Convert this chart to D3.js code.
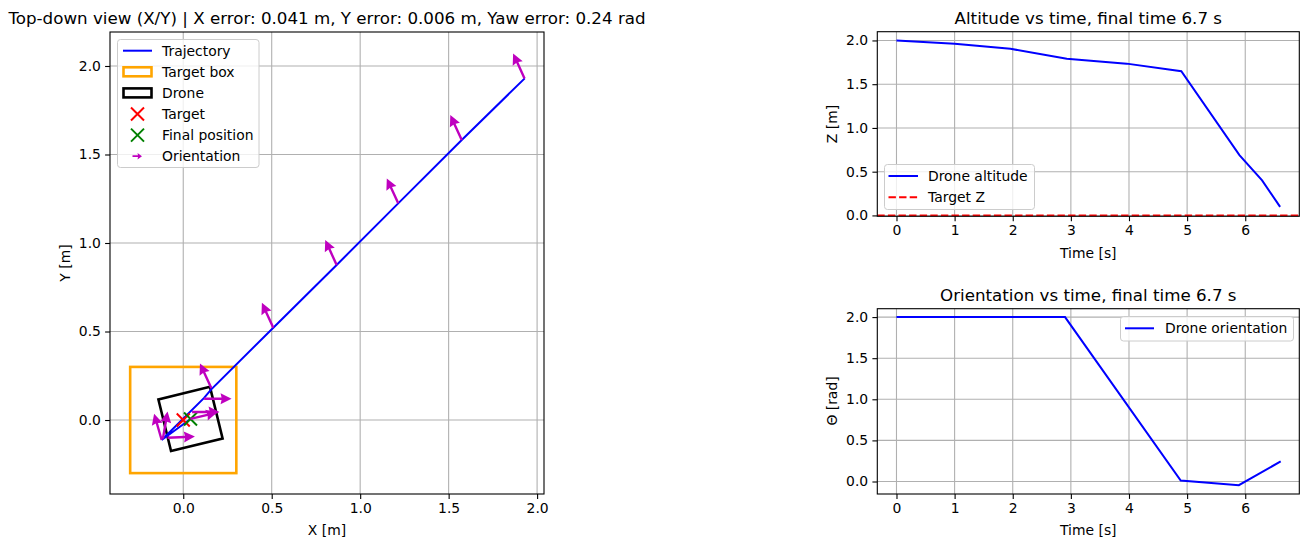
<!DOCTYPE html>
<html>
<head>
<meta charset="utf-8">
<script src="https://cdn.jsdelivr.net/npm/d3@7"></script>
<style>
  body { margin: 0; background: #fff; }
  svg { display: block; }
  text { font-family: "DejaVu Sans", sans-serif; fill: #000; }
</style>
</head>
<body>
<div id="chart"></div>
<script>
// ---- data ----
// top-down trajectory (m)
var trajX = [1.93, 1.574, 1.215, 0.867, 0.509, 0.157, 0.118, -0.122, 0.041];
var trajY = [1.93, 1.582, 1.224, 0.876, 0.521, 0.172, 0.125, -0.113, 0.006];
// orientation arrows (tail position, yaw in rad)
var arrowX   = [1.929, 1.574, 1.215, 0.867, 0.509, 0.159, 0.118, 0.05, 0.041, -0.122, -0.115, -0.089];
var arrowY   = [1.930, 1.582, 1.224, 0.876, 0.521, 0.179, 0.12, 0.045, 0.006, -0.113, -0.105, -0.10];
var arrowYaw = [2.0, 2.0, 2.0, 2.0, 2.0, 2.0, 0.0, 0.0, 0.24, 1.85, 1.4, 0.04];
var arrowLen = 0.155;
// target box / target / final pose
var boxHalf = 0.3;
var target = [0, 0];
var finalPos = [0.041, 0.006];
var finalYaw = 0.24;
var droneHalf = 0.15;
// altitude vs time
var altTime = [0, 1.0, 1.96, 2.93, 3.96, 4.9, 5.9, 6.29, 6.6];
var altZ    = [2.0, 1.962, 1.905, 1.79, 1.735, 1.648, 0.69, 0.40, 0.098];
var targetZ = 0.0;
// orientation vs time
var yawTime  = [0, 2.9, 4.89, 5.89, 6.61];
var yawTheta = [2.0, 2.0, 0.012, -0.045, 0.244];

var xyTicks = [0, 0.5, 1.0, 1.5, 2.0];
var timeTicks = [0, 1, 2, 3, 4, 5, 6];
var zTicks = [0, 0.5, 1.0, 1.5, 2.0];
var thetaTicks = [0, 0.5, 1.0, 1.5, 2.0];

var W = 1309, H = 547;
var svg = d3.select("#chart").append("svg").attr("width", W).attr("height", H);

var TICK = 4.9, PAD = 4.2, FS = 13.9, TFS = 16.7;

function panel(box, xDom, yDom, xt, yt, xfmt, yfmt) {
  var x = d3.scaleLinear().domain(xDom).range([box.x0, box.x1]);
  var y = d3.scaleLinear().domain(yDom).range([box.y1, box.y0]);
  var g = svg.append("g");
  // grid
  g.append("g").selectAll("line").data(xt).enter().append("line")
    .attr("x1", d => x(d)).attr("x2", d => x(d)).attr("y1", box.y0).attr("y2", box.y1)
    .attr("stroke", "#b0b0b0").attr("stroke-width", 1.1);
  g.append("g").selectAll("line").data(yt).enter().append("line")
    .attr("y1", d => y(d)).attr("y2", d => y(d)).attr("x1", box.x0).attr("x2", box.x1)
    .attr("stroke", "#b0b0b0").attr("stroke-width", 1.1);
  // axes
  var ax = g.append("g").attr("transform", "translate(0," + box.y1 + ")")
    .call(d3.axisBottom(x).tickValues(xt).tickFormat(xfmt).tickSize(TICK).tickPadding(PAD).tickSizeOuter(0));
  var ay = g.append("g").attr("transform", "translate(" + box.x0 + ",0)")
    .call(d3.axisLeft(y).tickValues(yt).tickFormat(yfmt).tickSize(TICK).tickPadding(PAD).tickSizeOuter(0));
  [ax, ay].forEach(function(a) {
    a.select(".domain").remove();
    a.selectAll("text").attr("font-size", FS).attr("font-family", "DejaVu Sans").attr("fill", "#000");
    a.selectAll("line").attr("stroke", "#000").attr("stroke-width", 1.1);
  });
  var clipId = "clip" + Math.round(box.x0) + Math.round(box.y0);
  svg.append("clipPath").attr("id", clipId).append("rect")
    .attr("x", box.x0).attr("y", box.y0).attr("width", box.x1 - box.x0).attr("height", box.y1 - box.y0);
  var plot = svg.append("g").attr("clip-path", "url(#" + clipId + ")");
  return { x: x, y: y, plot: plot, box: box };
}

function spines(p) {
  svg.append("rect").attr("x", p.box.x0).attr("y", p.box.y0)
    .attr("width", p.box.x1 - p.box.x0).attr("height", p.box.y1 - p.box.y0)
    .attr("fill", "none").attr("stroke", "#000").attr("stroke-width", 1.1);
}

function label(txt, x, y, size, rot) {
  var t = svg.append("text").attr("text-anchor", "middle").attr("font-size", size).text(txt);
  if (rot) t.attr("transform", "translate(" + x + "," + y + ") rotate(-90)");
  else t.attr("x", x).attr("y", y);
  return t;
}

function arrowPath(len, s, hw, hl, ha) {
  return [[0, -s], [len - ha, -s], [len - hl, -hw], [len, 0], [len - hl, hw], [len - ha, s], [0, s]];
}

// ---------- top-down view ----------
var P = panel({ x0: 110, x1: 544, y0: 32, y1: 494 }, [-0.414, 2.039], [-0.418, 2.192],
  xyTicks, xyTicks, d3.format(".1f"), d3.format(".1f"));

P.plot.append("rect")
  .attr("x", P.x(-boxHalf)).attr("y", P.y(boxHalf))
  .attr("width", P.x(boxHalf) - P.x(-boxHalf)).attr("height", P.y(-boxHalf) - P.y(boxHalf))
  .attr("fill", "none").attr("stroke", "#ffa500").attr("stroke-width", 2.6);

var corners = [[-1, -1], [1, -1], [1, 1], [-1, 1]].map(function(c) {
  var lx = c[0] * droneHalf, ly = c[1] * droneHalf;
  var cs = Math.cos(finalYaw), sn = Math.sin(finalYaw);
  return [P.x(finalPos[0] + lx * cs - ly * sn), P.y(finalPos[1] + lx * sn + ly * cs)];
});
P.plot.append("polygon").attr("points", corners.map(c => c.join(",")).join(" "))
  .attr("fill", "none").attr("stroke", "#000").attr("stroke-width", 2.6);

P.plot.append("path")
  .attr("d", d3.line().x(i => P.x(trajX[i])).y(i => P.y(trajY[i]))(d3.range(trajX.length)))
  .attr("fill", "none").attr("stroke", "#0000ff").attr("stroke-width", 2);

function xMarker(g, cx, cy, r, col) {
  g.append("path").attr("d", "M" + (cx - r) + "," + (cy - r) + "L" + (cx + r) + "," + (cy + r) +
    "M" + (cx - r) + "," + (cy + r) + "L" + (cx + r) + "," + (cy - r))
    .attr("stroke", col).attr("stroke-width", 2).attr("fill", "none");
}
xMarker(P.plot, P.x(target[0]), P.y(target[1]), 6.5, "#ff0000");
xMarker(P.plot, P.x(finalPos[0]), P.y(finalPos[1]), 6.5, "#008000");

var lenPx = P.x(arrowLen) - P.x(0);
var shape = arrowPath(lenPx, 1.2, 5.5, 11, 10);
P.plot.append("g").selectAll("polygon").data(d3.range(arrowX.length)).enter().append("polygon")
  .attr("points", shape.map(p => p.join(",")).join(" "))
  .attr("transform", i => "translate(" + P.x(arrowX[i]) + "," + P.y(arrowY[i]) + ") rotate(" + (-arrowYaw[i] * 180 / Math.PI) + ")")
  .attr("fill", "#bf00bf");
spines(P);

// legend
var lg = svg.append("g");
lg.append("rect").attr("x", 117.5).attr("y", 39.5).attr("width", 141.5).attr("height", 128)
  .attr("rx", 3).attr("fill", "#fff").attr("fill-opacity", 0.8).attr("stroke", "#cccccc").attr("stroke-width", 1);
var rows = [50.7, 71.8, 92.9, 114, 135.1, 156.2];
var names = ["Trajectory", "Target box", "Drone", "Target", "Final position", "Orientation"];
lg.append("line").attr("x1", 123).attr("x2", 152).attr("y1", rows[0]).attr("y2", rows[0])
  .attr("stroke", "#0000ff").attr("stroke-width", 2);
lg.append("rect").attr("x", 123.5).attr("y", rows[1] - 4.5).attr("width", 28).attr("height", 9)
  .attr("fill", "none").attr("stroke", "#ffa500").attr("stroke-width", 2.6);
lg.append("rect").attr("x", 123.5).attr("y", rows[2] - 4.5).attr("width", 28).attr("height", 9)
  .attr("fill", "none").attr("stroke", "#000").attr("stroke-width", 2.6);
xMarker(lg, 137.5, rows[3], 6.5, "#ff0000");
xMarker(lg, 137.5, rows[4], 6.5, "#008000");
lg.append("polygon").attr("points", arrowPath(9.5, 0.9, 3.3, 4.5, 4).map(p => p.join(",")).join(" "))
  .attr("transform", "translate(132.5," + rows[5] + ")").attr("fill", "#bf00bf");
lg.selectAll("text.n").data(names).enter().append("text").attr("class", "n")
  .attr("x", 162).attr("y", (d, i) => rows[i] + 5).attr("font-size", FS).text(d => d);

label("Top-down view (X/Y) | X error: 0.041 m, Y error: 0.006 m, Yaw error: 0.24 rad", 327, 24, TFS);
label("X [m]", 327, 535, FS);
label("Y [m]", 69.5, 263, FS, true);

// ---------- altitude vs time ----------
var A = panel({ x0: 877.3, x1: 1299.3, y0: 31.7, y1: 216.3 }, [-0.33, 6.93], [-0.01, 2.1],
  timeTicks, zTicks, d3.format("d"), d3.format(".1f"));
A.plot.append("path")
  .attr("d", d3.line().x(i => A.x(altTime[i])).y(i => A.y(altZ[i]))(d3.range(altTime.length)))
  .attr("fill", "none").attr("stroke", "#0000ff").attr("stroke-width", 2);
A.plot.append("line").attr("x1", A.box.x0).attr("x2", A.box.x1).attr("y1", A.y(targetZ)).attr("y2", A.y(targetZ))
  .attr("stroke", "#ff0000").attr("stroke-width", 2).attr("stroke-dasharray", "7.4,3.2");
spines(A);
var la = svg.append("g");
la.append("rect").attr("x", 884.5).attr("y", 164.5).attr("width", 150).attr("height", 45)
  .attr("rx", 3).attr("fill", "#fff").attr("fill-opacity", 0.8).attr("stroke", "#cccccc");
la.append("line").attr("x1", 888.5).attr("x2", 918).attr("y1", 176).attr("y2", 176)
  .attr("stroke", "#0000ff").attr("stroke-width", 2);
la.append("line").attr("x1", 888.5).attr("x2", 918).attr("y1", 197.3).attr("y2", 197.3)
  .attr("stroke", "#ff0000").attr("stroke-width", 2).attr("stroke-dasharray", "7.4,3.2");
la.append("text").attr("x", 928).attr("y", 181).attr("font-size", FS).text("Drone altitude");
la.append("text").attr("x", 928).attr("y", 202.3).attr("font-size", FS).text("Target Z");
label("Altitude vs time, final time 6.7 s", 1088.3, 24, TFS);
label("Time [s]", 1088.3, 258, FS);
label("Z [m]", 836.5, 124, FS, true);

// ---------- orientation vs time ----------
var B = panel({ x0: 877.3, x1: 1299.3, y0: 308.7, y1: 494 }, [-0.33, 6.93], [-0.152, 2.102],
  timeTicks, thetaTicks, d3.format("d"), d3.format(".1f"));
B.plot.append("path")
  .attr("d", d3.line().x(i => B.x(yawTime[i])).y(i => B.y(yawTheta[i]))(d3.range(yawTime.length)))
  .attr("fill", "none").attr("stroke", "#0000ff").attr("stroke-width", 2);
spines(B);
var lb = svg.append("g");
lb.append("rect").attr("x", 1120.5).attr("y", 316.5).attr("width", 173).attr("height", 24.5)
  .attr("rx", 3).attr("fill", "#fff").attr("fill-opacity", 0.8).attr("stroke", "#cccccc");
lb.append("line").attr("x1", 1125).attr("x2", 1154).attr("y1", 328.3).attr("y2", 328.3)
  .attr("stroke", "#0000ff").attr("stroke-width", 2);
lb.append("text").attr("x", 1165).attr("y", 333.3).attr("font-size", FS).text("Drone orientation");
label("Orientation vs time, final time 6.7 s", 1088.3, 301, TFS);
label("Time [s]", 1088.3, 535, FS);
label("\u0398 [rad]", 836.5, 401, FS, true);
</script>
</body>
</html>
